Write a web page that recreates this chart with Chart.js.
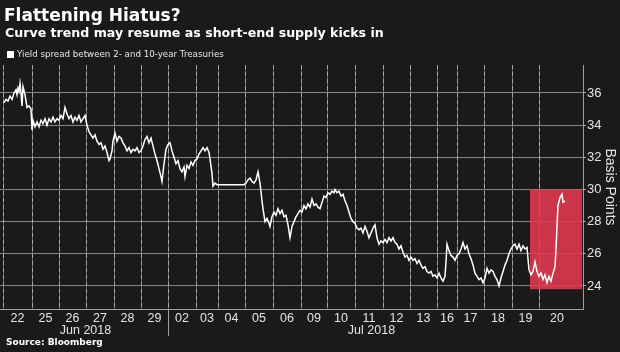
<!DOCTYPE html>
<html>
<head>
<meta charset="utf-8">
<script src="https://cdn.jsdelivr.net/npm/chart.js@4.4.1/dist/chart.umd.min.js"></script>
<style>
  html, body { margin: 0; padding: 0; background: #1c1a19; }
  #wrap { position: relative; width: 620px; height: 352px; overflow: hidden; background: #1c1a19; }
  #chart { position: absolute; left: 0; top: 0; }
  .txt { position: absolute; white-space: nowrap; color: #fff; font-family: "DejaVu Sans", sans-serif; line-height: 1; }
  #title { left: 4px; top: 7px; font-size: 17px; font-weight: bold; }
  #subtitle { left: 5px; top: 27px; font-size: 12.6px; font-weight: bold; }
  #legendBox { position: absolute; left: 7px; top: 51px; width: 7px; height: 7px; background: #fff; }
  #legendText { left: 17px; top: 50px; font-size: 8.7px; color: #e6e6e6; }
  #source { left: 6px; top: 338px; font-size: 9px; font-weight: bold; }
</style>
</head>
<body>
<div id="wrap">
  <canvas id="chart" width="620" height="352"></canvas>
  <div class="txt" id="title">Flattening Hiatus?</div>
  <div class="txt" id="subtitle">Curve trend may resume as short-end supply kicks in</div>
  <div id="legendBox"></div>
  <div class="txt" id="legendText">Yield spread between 2- and 10-year Treasuries</div>
  <div class="txt" id="source">Source: Bloomberg</div>
</div>
<script>
// ─── DATA ────────────────────────────────────────────────────
// trading-session days shown on the axis
const dayLabels = ['22', '25', '26', '27', '28', '29', '02', '03', '04', '05', '06',
                   '09', '10', '11', '12', '13', '16', '17', '18', '19', '20'];
// session boundaries on the time axis (one more than the days)
const dayEdges = [3, 32, 59, 86, 114, 141, 168, 196, 218, 245, 273, 301, 327,
                  355, 383, 410, 437, 457, 484, 512, 539, 575];
const monthLabels = ['Jun 2018', 'Jul 2018'];
const monthEdges = [3, 168, 575];
const yTicks = [24, 26, 28, 30, 32, 34, 36];

// intraday spread, time position / basis points
const spreadT = [
  4, 6, 8, 10, 12, 14, 16, 17, 18, 19, 20, 21, 22, 23, 25, 27, 29, 31,
  32, 33, 35, 37, 39, 41, 43, 45, 47, 49, 51, 53, 55, 57, 59,
  61, 63, 65, 67, 69, 71, 73, 75, 77, 79, 81, 83, 85,
  87, 89, 91, 93, 95, 97, 99, 101, 103, 105, 107, 109, 110, 112, 113,
  115, 117, 119, 121, 123, 125, 127, 129, 131, 133, 135, 137, 139, 141,
  143, 145, 147, 149, 151, 153, 155, 157, 159, 161, 162, 164, 166, 168,
  170, 172, 174, 176, 178, 180, 182, 184, 185, 187, 189, 191, 193, 195,
  197, 199, 201, 203, 205, 207, 209, 210, 212, 213, 215, 217,
  230, 244,
  246, 248, 250, 252, 254, 256, 258, 260, 262, 263, 265, 267, 269, 270, 272,
  274, 276, 278, 280, 282, 284, 286, 288, 290, 292, 294, 296, 298, 300,
  302, 304, 306, 308, 310, 312, 314, 316, 318, 320, 322, 324, 326,
  328, 330, 332, 334, 335, 337, 339, 341, 343, 345, 347, 349, 351, 353, 355,
  357, 359, 361, 363, 365, 367, 369, 371, 373, 375, 377, 379, 381,
  383, 385, 387, 389, 391, 393, 395, 397, 399, 401, 403, 405, 407, 409,
  411, 413, 415, 417, 419, 421, 423, 425, 427, 429, 431, 433, 435, 437, 439, 441, 443, 445, 446, 447,
  449, 451, 453, 455, 457, 459, 461, 463, 465, 467, 469, 471, 473,
  475, 477, 479, 481, 483, 485, 487, 489, 491, 493, 495, 497, 499,
  501, 503, 505, 507, 509, 511, 513, 515, 517, 519, 521, 523, 525, 527,
  529, 531, 533, 535, 537, 539, 541, 543, 545, 547, 549, 551, 553, 555, 556, 557, 558, 560, 562, 563, 565
];
const spreadBp = [
  35.4, 35.6, 35.5, 35.8, 35.6, 36.0, 36.2, 35.9, 36.3, 36.1, 36.6, 36.0, 35.2, 36.4, 35.9, 35.1, 35.2, 35.0,
  33.7, 34.3, 33.9, 34.2, 33.9, 34.3, 34.1, 34.4, 34.0, 34.4, 34.2, 34.5, 34.2, 34.4, 34.3,
  34.6, 34.4, 35.1, 34.7, 34.4, 34.6, 34.2, 34.5, 34.3, 34.6, 34.2, 34.4, 34.6,
  34.0, 33.6, 33.4, 33.2, 33.4, 33.0, 32.8, 32.9, 32.5, 32.7, 32.3, 31.8, 31.9, 32.4, 33.0,
  33.5, 33.0, 33.3, 33.2, 32.9, 32.7, 32.4, 32.6, 32.3, 32.5, 32.4, 32.6, 32.3, 32.4,
  32.7, 33.1, 33.3, 32.9, 33.2, 32.7, 32.2, 31.8, 31.3, 30.8, 30.5, 31.6, 32.5, 32.8,
  32.9, 32.4, 32.0, 31.6, 31.8, 31.3, 31.1, 31.4, 30.8, 31.5, 31.3, 31.7, 31.5, 31.8,
  31.9, 32.2, 32.4, 32.6, 32.4, 32.6, 32.3, 31.9, 31.0, 30.2, 30.4, 30.3,
  30.3, 30.3,
  30.4, 30.6, 30.7, 30.5, 30.4, 30.6, 31.1, 30.4, 29.3, 28.8, 28.0, 28.2, 27.9, 27.7, 28.3,
  28.6, 28.4, 28.8, 28.5, 28.7, 28.3, 28.4, 27.8, 27.0, 27.7, 28.0, 28.3, 28.5, 28.7,
  28.6, 29.0, 28.8, 29.1, 28.9, 29.4, 29.0, 29.1, 28.9, 28.8, 29.2, 29.6, 29.5,
  29.8, 29.7, 29.9, 29.8, 30.0, 29.8, 29.9, 29.6, 29.7, 29.3, 29.0, 28.6, 28.2, 28.0, 27.9,
  27.6, 27.5, 27.6, 27.3, 27.7, 27.4, 27.0, 27.3, 27.6, 27.8, 27.0, 26.6, 26.8,
  26.7, 26.9, 26.7, 27.0, 26.8, 27.0, 26.7, 26.6, 26.3, 26.5, 26.1, 25.8, 25.9, 25.6,
  25.8, 25.6, 25.7, 25.4, 25.6, 25.3, 25.1, 25.2, 24.9, 24.8, 24.9, 24.6, 24.7, 24.5, 24.8, 24.5, 24.3, 24.6, 25.5, 26.6,
  26.2, 25.9, 25.8, 25.6, 25.9, 26.0, 26.3, 26.7, 26.3, 26.5, 26.0, 25.7, 25.3,
  24.8, 24.6, 24.4, 24.5, 24.2, 24.5, 25.1, 24.8, 25.0, 24.9, 24.6, 24.4, 24.0,
  24.5, 24.9, 25.3, 25.6, 26.0, 26.3, 26.5, 26.6, 26.3, 26.6, 26.2, 26.5, 26.3, 26.4,
  25.0, 24.7, 24.9, 25.5, 24.9, 24.6, 24.8, 24.4, 24.7, 24.2, 24.6, 24.3, 24.8, 25.2, 26.3, 27.7, 29.0, 29.5, 29.7, 29.2, 29.3
];

// highlighted window (time range / spread range)
const boxT = [530, 582];
const boxBp = [23.8, 30];

// ─── DERIVED TICKS ───────────────────────────────────────────
// day axis: session edges carry the grid, mid-points carry the labels
const dayTicks = [];
dayLabels.forEach((lab, i) => {
  dayTicks.push({ value: dayEdges[i], text: '', edge: true });
  dayTicks.push({ value: (dayEdges[i] + dayEdges[i + 1]) / 2, text: lab, edge: false });
});
const monthMid = monthLabels.map((_, i) => (monthEdges[i] + monthEdges[i + 1]) / 2);

const GRID = '#858585';
const VGRID_DIM = '#6a6968';
const VGRID = '#a8a8a8';
const AXIS = '#a0a0a0';
const LABEL = '#e4e4e4';

// ─── PLUGINS ─────────────────────────────────────────────────
// brighter dashes over the session separators (4px on, 3px off)
const dayDashes = {
  id: 'dayDashes',
  beforeDatasetsDraw(chart) {
    const { ctx, chartArea, scales: { xDay } } = chart;
    ctx.save();
    ctx.fillStyle = VGRID;
    dayEdges.slice(0, -1).forEach(v => {
      const px = Math.round(xDay.getPixelForValue(v) - 0.5);
      for (let yy = Math.round(chartArea.top); yy < chartArea.bottom; yy += 7) {
        ctx.fillRect(px, yy, 1, Math.min(4, chartArea.bottom - yy));
      }
    });
    ctx.restore();
  }
};

const highlightBox = {
  id: 'highlightBox',
  beforeDatasetsDraw(chart) {
    const { ctx, scales: { x, y } } = chart;
    const l = x.getPixelForValue(boxT[0]);
    const r = x.getPixelForValue(boxT[1]);
    const t = y.getPixelForValue(boxBp[1]);
    const b = y.getPixelForValue(boxBp[0]);
    ctx.save();
    ctx.fillStyle = 'rgba(228,56,80,0.88)';
    ctx.fillRect(l, t, r - l, b - t);
    ctx.restore();
  }
};

const monthDivider = {
  id: 'monthDivider',
  afterDraw(chart) {
    const { ctx, chartArea, scales: { x } } = chart;
    const px = Math.round(x.getPixelForValue(monthEdges[1]) - 0.5);
    ctx.save();
    ctx.fillStyle = AXIS;
    ctx.fillRect(px, chartArea.bottom, 1, 27);
    ctx.restore();
  }
};

// ─── CHART ───────────────────────────────────────────────────
new Chart(document.getElementById('chart'), {
  type: 'line',
  data: {
    datasets: [{
      label: 'Yield spread between 2- and 10-year Treasuries',
      data: spreadT.map((t, i) => ({ x: t, y: spreadBp[i] })),
      borderColor: '#ffffff',
      borderWidth: 1.5,
      pointRadius: 0,
      tension: 0,
      fill: false
    }]
  },
  options: {
    responsive: false,
    animation: false,
    devicePixelRatio: 1,
    layout: { padding: { top: 65, left: 0, right: 0, bottom: 13 } },
    plugins: { legend: { display: false }, tooltip: { enabled: false } },
    scales: {
      x: {
        type: 'linear', display: false, min: 0, max: 583, bounds: 'data'
      },
      xDay: {
        type: 'linear', position: 'bottom', min: 0, max: 583, bounds: 'data', weight: 1,
        afterBuildTicks: s => { s.ticks = dayTicks.map(d => ({ value: d.value })); },
        afterFit: s => { s.height = 14; },
        grid: {
          display: true, drawOnChartArea: true, drawTicks: false, lineWidth: 1,
          color: c => (dayTicks[c.index] && dayTicks[c.index].edge ? VGRID_DIM : 'rgba(0,0,0,0)')
        },
        border: { display: true, color: AXIS, width: 1 },
        ticks: {
          autoSkip: false, maxRotation: 0, padding: 2, color: LABEL,
          font: { family: 'Liberation Sans', size: 12.5 },
          callback: (v, i) => dayTicks[i].text
        }
      },
      xMonth: {
        type: 'linear', position: 'bottom', min: 0, max: 583, bounds: 'data', weight: 2,
        afterBuildTicks: s => { s.ticks = monthMid.map(v => ({ value: v })); },
        afterFit: s => { s.height = 16; },
        grid: { display: false, drawTicks: false },
        border: { display: false },
        ticks: {
          autoSkip: false, maxRotation: 0, padding: 0, color: LABEL,
          font: { family: 'Liberation Sans', size: 12.5 },
          callback: (v, i) => monthLabels[i]
        }
      },
      y: {
        type: 'linear', position: 'right', min: 22.57, max: 37.74, bounds: 'data',
        afterBuildTicks: s => { s.ticks = yTicks.map(v => ({ value: v })); },
        afterFit: s => { s.width = 37; },
        grid: { color: GRID, lineWidth: 1, tickLength: 3, tickColor: AXIS },
        border: { display: true, color: AXIS },
        ticks: { padding: 1, color: LABEL, font: { family: 'Liberation Sans', size: 13 } },
        title: {
          display: true, text: 'Basis Points', color: LABEL,
          font: { family: 'Liberation Sans', size: 14 },
          padding: { top: 2, bottom: 0 }
        }
      }
    }
  },
  plugins: [dayDashes, highlightBox, monthDivider]
});
</script>
</body>
</html>
